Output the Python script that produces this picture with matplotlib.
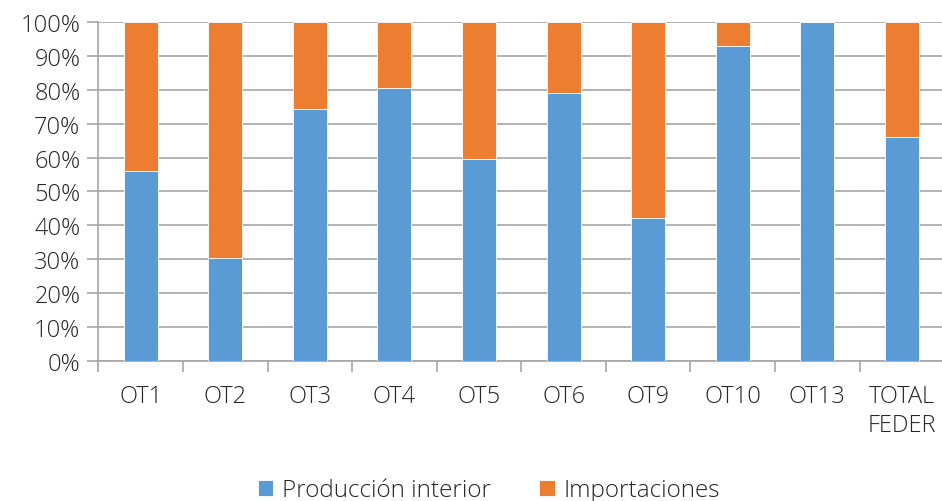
import numpy as np
import matplotlib.pyplot as plt
from matplotlib.ticker import FixedLocator, PercentFormatter

plt.rcParams['font.family'] = ['Open Sans', 'DejaVu Sans']

categories = ['OT1', 'OT2', 'OT3', 'OT4', 'OT5', 'OT6', 'OT9', 'OT10', 'OT13', 'TOTAL\nFEDER']
produccion = [56.1, 30.3, 74.5, 80.7, 59.7, 79.2, 42.2, 93.1, 100.0, 66.0]
importaciones = [100 - v for v in produccion]

blue = '#5B9BD5'
orange = '#ED7D31'
grid_col = '#A6A6A6'
txt_col = '#262626'

fig = plt.figure(figsize=(9.42, 5.02), dpi=100)
ax = fig.add_axes([0.1044, 0.2795, 0.898, 0.6741])

x = np.arange(len(categories))
ax.bar(x, produccion, width=0.4, color=blue, edgecolor='white', linewidth=0.6,
       label='Producción interior', zorder=3)
ax.bar(x, importaciones, width=0.4, bottom=produccion, color=orange, edgecolor='white',
       linewidth=0.6, label='Importaciones', zorder=3)

ax.set_xlim(-0.5, len(categories) - 0.5)
ax.set_ylim(0, 100)
ax.yaxis.set_major_locator(FixedLocator(np.arange(0, 101, 10)))
ax.yaxis.set_major_formatter(PercentFormatter(decimals=0))
ax.grid(axis='y', color=grid_col, linewidth=1.2, zorder=0)

ax.set_xticks(x)
ax.set_xticklabels(categories, fontsize=17, color=txt_col, fontweight='light', linespacing=1.25)
ax.set_xticks(np.arange(-0.5, len(categories), 1), minor=True)
ax.tick_params(axis='x', which='major', length=0, pad=17)
ax.tick_params(axis='x', which='minor', length=8, color=grid_col, width=1.2)
ax.tick_params(axis='y', length=8, color=grid_col, width=1.2, labelsize=17,
               labelcolor=txt_col, pad=5)
for lbl in ax.get_yticklabels():
    lbl.set_fontweight('light')

for s in ['top', 'right']:
    ax.spines[s].set_visible(False)
for s in ['left', 'bottom']:
    ax.spines[s].set_color(grid_col)
    ax.spines[s].set_linewidth(1.2)

leg = fig.legend(loc='center', bbox_to_anchor=(0.519, 0.021), ncol=2, frameon=False,
                 fontsize=17.5, handlelength=0.65, handleheight=0.65, handletextpad=0.35,
                 columnspacing=2.0, borderpad=0)
for t in leg.get_texts():
    t.set_color(txt_col)
    t.set_fontweight('light')

fig.savefig('out.png', dpi=100)
